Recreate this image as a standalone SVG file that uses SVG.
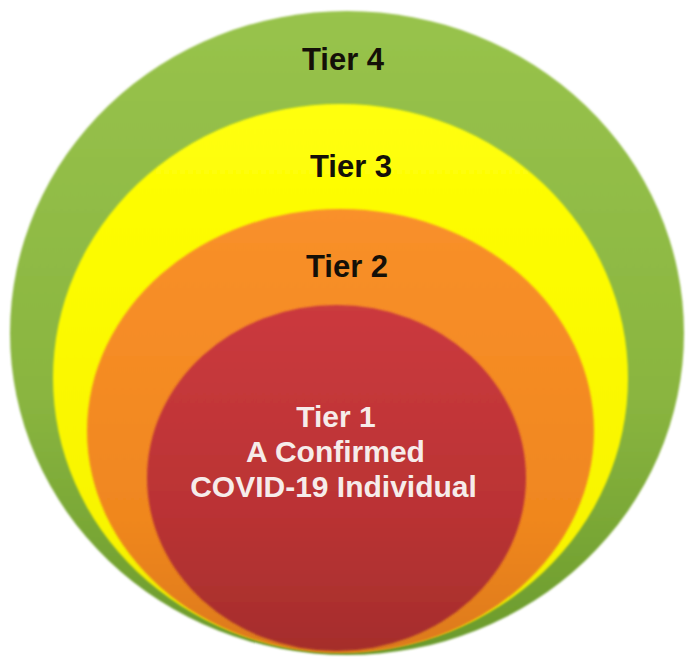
<svg xmlns="http://www.w3.org/2000/svg" width="686" height="661" viewBox="0 0 686 661">
<style>
.lbl{font-family:"Liberation Sans",Arial,sans-serif;font-weight:bold;font-size:31px;fill:#141008;text-anchor:middle}
.in{font-family:"Liberation Sans",Arial,sans-serif;font-weight:bold;font-size:30px;fill:#F6ECEA;text-anchor:middle}
</style>
<defs>
<linearGradient id="gG" x1="0" y1="0" x2="0" y2="1">
<stop offset="0" stop-color="#98C34C"/><stop offset="0.6" stop-color="#8AB540"/><stop offset="1" stop-color="#6A9A2C"/>
</linearGradient>
<linearGradient id="gY" x1="0" y1="0" x2="0" y2="1">
<stop offset="0" stop-color="#FFFF08"/><stop offset="0.8" stop-color="#F8F400"/><stop offset="1" stop-color="#E8E000"/>
</linearGradient>
<linearGradient id="gO" x1="0" y1="0" x2="0" y2="1">
<stop offset="0" stop-color="#F9902A"/><stop offset="0.7" stop-color="#F0871F"/><stop offset="1" stop-color="#DC7A1E"/>
</linearGradient>
<linearGradient id="gR" x1="0" y1="0" x2="0" y2="1">
<stop offset="0" stop-color="#CB3A3E"/><stop offset="0.6" stop-color="#BA3334"/><stop offset="1" stop-color="#A52E2C"/>
</linearGradient>
<filter id="soft" x="-5%" y="-5%" width="110%" height="112%">
<feGaussianBlur stdDeviation="1.2"/>
</filter>
</defs>
<rect width="686" height="661" fill="#FFFFFF"/>
<g id="tier4">
<ellipse cx="347" cy="333" rx="337" ry="322" fill="url(#gG)" filter="url(#soft)"/>
<text class="lbl" x="343" y="70">Tier 4</text>
</g>
<g id="tier3">
<ellipse cx="340.5" cy="378" rx="287.5" ry="274" fill="url(#gY)" filter="url(#soft)"/>
<text class="lbl" x="351" y="177">Tier 3</text>
</g>
<g id="tier2">
<ellipse cx="340.5" cy="431" rx="253.5" ry="222" fill="url(#gO)" filter="url(#soft)"/>
<text class="lbl" x="347" y="277">Tier 2</text>
</g>
<g id="tier1">
<ellipse cx="336.5" cy="478" rx="189.5" ry="173" fill="url(#gR)" filter="url(#soft)"/>
<text class="in" x="336" y="427">Tier 1</text>
<text class="in" x="335.5" y="462">A Confirmed</text>
<text class="in" x="333.5" y="497">COVID-19 Individual</text>
</g>
<g id="connectors"/>
</svg>
